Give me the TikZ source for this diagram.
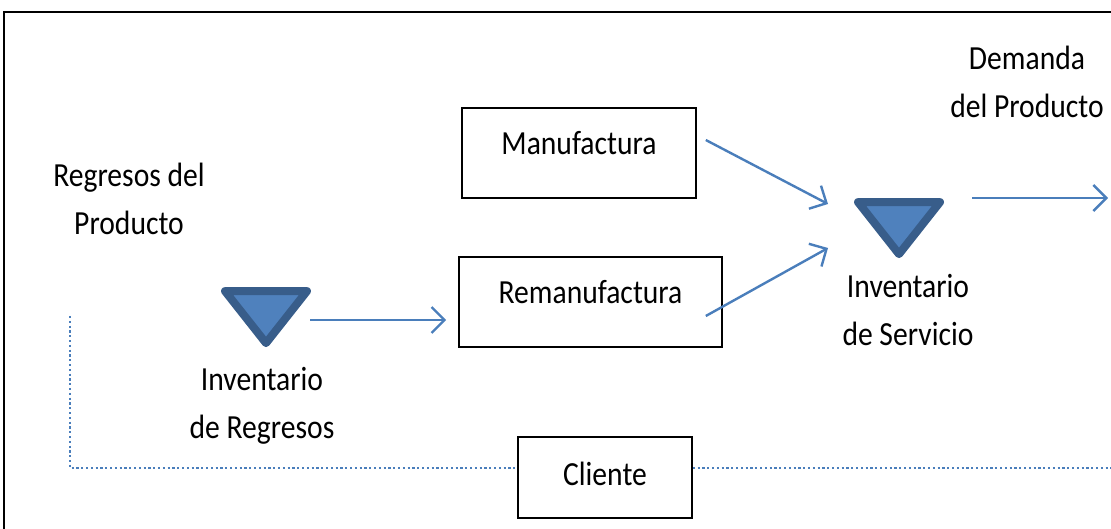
\documentclass[tikz,border=0pt]{standalone}
\usepackage{fontspec}
\setmainfont{Carlito}
\usetikzlibrary{positioning,arrows.meta,shapes.geometric}

\definecolor{flowblue}{HTML}{4A7EBB}
\definecolor{trifill}{HTML}{4F81BD}
\definecolor{triedge}{HTML}{385D8A}

% taller glyphs, as in the reference
\newcommand{\tall}[1]{\scalebox{1}[1.14]{#1}}
\newcommand{\boxtext}[2]{\raisebox{-#1}[0pt][0pt]{\tall{#2}}}

\begin{document}
\begin{tikzpicture}[
  x=1pt, y=-1pt,
  font=\fontsize{29.6}{48}\selectfont,
  process/.style={
    rectangle, draw, line width=1.6pt,
    align=center, inner sep=0pt
  },
  stock/.style={
    isosceles triangle, shape border rotate=270,
    isosceles triangle stretches,
    minimum width=82pt, minimum height=52pt,
    draw=triedge, fill=trifill, line width=8pt,
    line join=round, inner sep=0pt
  },
  label/.style={align=center, inner sep=0pt, anchor=base},
  flow/.style={-{Straight Barb[length=13pt,width=26pt,line width=2.4pt]}, draw=flowblue, line width=2.4pt},
  returnline/.style={draw=flowblue, line width=2.2pt, dash pattern=on 2.2pt off 2.6pt}
]
\useasboundingbox (0,0) rectangle (1111,529);

% =====================================================
% FRAME
% =====================================================

\draw[line width=1.5pt] (4,529) -- (4,12) -- (1111,12);

% =====================================================
% PROCESSES
% =====================================================

\node[process, minimum width=234pt, minimum height=90pt] (manuf) at (579,153) {\boxtext{2pt}{Manufactura}};
\node[process, minimum width=263pt, minimum height=90pt] (reman) at (590.5,302) {\boxtext{1.5pt}{Remanufactura}};
\node[process, minimum width=174pt, minimum height=81pt] (client) at (605,477.5) {\boxtext{7.5pt}{Cliente}};

% =====================================================
% INVENTORIES
% =====================================================

\node[stock] (invreg) at (266,311) {};
\node[stock] (invserv) at (899,222) {};

% base = baseline of the last line
\node[label] (invreglbl) at (262,438) {\tall{Inventario}\\\tall{de Regresos}};
\node[label] (invservlbl) at (908,345) {\tall{Inventario}\\\tall{de Servicio}};
\node[label] (returns) at (129,235) {\tall{Regresos del}\\\tall{Producto}};
\node[label] (demand) at (1027,118) {\tall{Demanda}\\\tall{del Producto}};

\coordinate (out) at (1108,198);
\coordinate (back) at (70,316);
\coordinate (edge) at (1111,468);

% =====================================================
% FLOWS
% =====================================================

\draw[flow] ([shift={(44pt,-9pt)}]invreg.center) -- ([shift={(-12pt,-18pt)}]reman.west);
\draw[flow] ([shift={(9pt,13pt)}]manuf.east) -- ([shift={(-71pt,18pt)}]invserv.center);
\draw[flow] ([shift={(-17pt,-14pt)}]reman.east) -- ([shift={(-71pt,-26pt)}]invserv.center);
\draw[flow] ([shift={(73pt,24pt)}]invserv.center) -- (out);

% =====================================================
% RETURN LOOP
% =====================================================

\draw[returnline] (back) |- ([yshift=9.5pt]client.west);
\draw[returnline] ([yshift=9.5pt]client.east) -- (edge);

\end{tikzpicture}
\end{document}
